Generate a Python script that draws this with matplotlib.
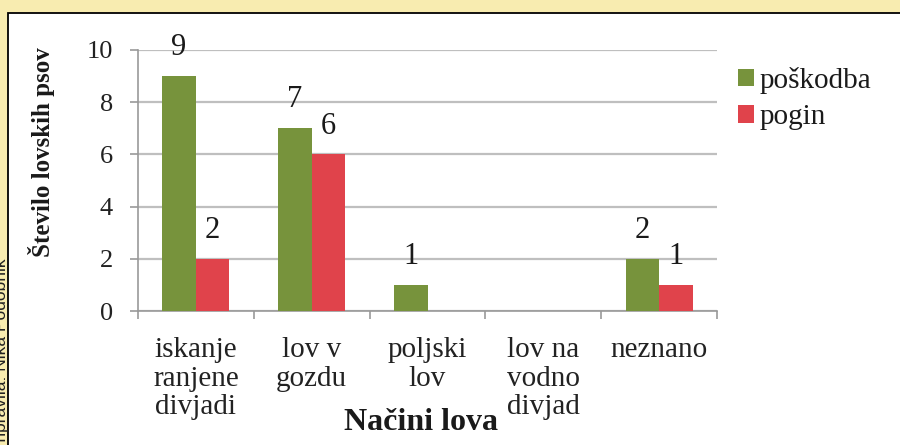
import matplotlib
matplotlib.use("Agg")
import matplotlib.pyplot as plt
from matplotlib.patches import Rectangle
import numpy as np

categories = ["iskanje\nranjene\ndivjadi", "lov v\ngozdu", "poljski\nlov", "lov na\nvodno\ndivjad", "neznano"]
poskodba = [9, 7, 1, 0, 2]
pogin = [2, 6, 0, 0, 1]
series_names = ["poškodba", "pogin"]
yticks = [0, 2, 4, 6, 8, 10]

GREEN = "#77933C"
RED = "#E0434B"
GRID = "#BFBFBF"
SERIF = ["Liberation Serif", "DejaVu Serif"]

fig = plt.figure(figsize=(9, 4.45), dpi=100)
fig.patch.set_facecolor("#F8ECB0")

# white panel with black border
panel = Rectangle((8 / 900, -0.2), 1.2, (445 - 12.5) / 445 + 0.2, transform=fig.transFigure,
                  facecolor="white", edgecolor="black", lw=1.3, zorder=-10)
fig.patches.append(panel)

fig.text(2 / 900, 1 - 258 / 445, "Pripravila: Nika Podobnik", rotation=90, ha="center", va="top",
         fontsize=12.5, family=["Liberation Sans", "DejaVu Sans"], color="#222222", zorder=-5)

ax = fig.add_axes([138 / 900, 1 - 311 / 445, (717 - 138) / 900, (311 - 50) / 445])
ax.set_facecolor("none")

x = np.arange(len(categories))
w = 0.29
b1 = ax.bar(x - w / 2, poskodba, w, color=GREEN, label=series_names[0], zorder=3)
b2 = ax.bar(x + w / 2, pogin, w, color=RED, label=series_names[1], zorder=3)

for bars, vals in ((b1, poskodba), (b2, pogin)):
    for rect, v in zip(bars, vals):
        if v == 0:
            continue
        ax.annotate(str(v), (rect.get_x() + rect.get_width() / 2, v), xytext=(0, 15),
                    textcoords="offset points", ha="center", va="baseline",
                    fontsize=22, family=SERIF, color="#1a1a1a", zorder=4, annotation_clip=False)

ax.set_xlim(-0.5, len(categories) - 0.5)
ax.set_ylim(0, 10)
ax.set_yticks(yticks)
ax.set_yticklabels([str(t) for t in yticks], family=SERIF, fontsize=19, color="#222222")
ax.yaxis.grid(True, color=GRID, lw=1.6, zorder=1)
ax.set_axisbelow(True)

ax.set_xticks(x)
ax.set_xticklabels(categories, family=SERIF, fontsize=21, color="#222222", linespacing=1.12)
ax.tick_params(axis="x", which="major", length=0, pad=19)
ax.set_xticks(np.arange(-0.5, len(categories), 1.0), minor=True)
ax.tick_params(axis="x", which="minor", length=6, width=1.2, color="#999999", direction="out")
ax.tick_params(axis="y", length=6, width=1.2, color="#999999", pad=12)

for s in ("top", "right"):
    ax.spines[s].set_visible(False)
for s in ("left", "bottom"):
    ax.spines[s].set_color("#999999")
    ax.spines[s].set_linewidth(1.2)

ax.set_ylabel("Število lovskih psov", family=SERIF, fontsize=18, fontweight="bold", color="#1a1a1a")
ax.yaxis.set_label_coords(55 / 900, 1 - 152 / 445, transform=fig.transFigure)

fig.text(421 / 900, 1 - 430 / 445, "Načini lova", ha="center", va="baseline",
         family=SERIF, fontsize=23, fontweight="bold", color="#1a1a1a")

leg = ax.legend(loc="upper left", bbox_to_anchor=(738 / 900, 1 - 67 / 445), bbox_transform=fig.transFigure,
                frameon=False, prop={"family": SERIF, "size": 21}, handlelength=0.55, handleheight=0.55,
                handletextpad=0.2, labelspacing=0.36, borderaxespad=0, borderpad=0)
for t in leg.get_texts():
    t.set_color("#1a1a1a")

fig.savefig("out.png", dpi=100, facecolor=fig.get_facecolor())
